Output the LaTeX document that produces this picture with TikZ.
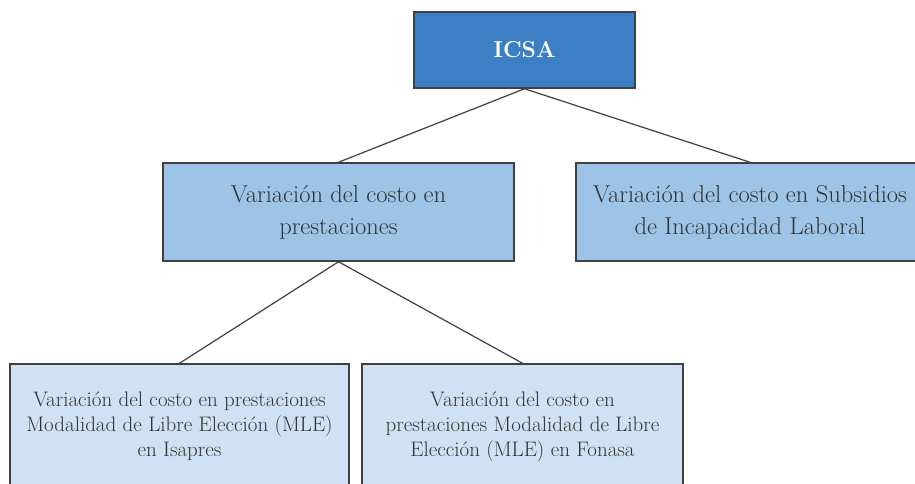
\documentclass[tikz,border=0pt]{standalone}
\usepackage{fontspec}
\usepackage{xcolor}
\usepackage{tikz}
\usetikzlibrary{positioning}

\definecolor{topblue}{HTML}{3D7FC4}
\definecolor{midblue}{HTML}{9DC3E6}
\definecolor{lowblue}{HTML}{CFE1F2}
\definecolor{edgegray}{HTML}{404040}
\definecolor{textgray}{HTML}{333333}

\begin{document}
\begin{tikzpicture}[
    x=1pt, y=-1pt,
    box/.style={rectangle, draw=edgegray, line width=1.5pt, align=center, text=textgray},
    topbox/.style={box, fill=topblue, text=white, font=\fontsize{23}{26}\selectfont\bfseries},
    midbox/.style={box, fill=midblue, minimum height=98pt, font=\fontsize{24.5}{32}\selectfont},
    lowbox/.style={box, fill=lowblue, minimum height=128pt, font=\fontsize{21}{25}\selectfont},
    link/.style={draw=edgegray, line width=1.2pt}
]
\useasboundingbox (0,0) rectangle (915,483);
\clip (0,0) rectangle (915,483);

\node[topbox, minimum width=221pt, minimum height=76pt] (icsa) at (524.5,50) {ICSA};

\node[midbox, minimum width=351pt] (prest) at (338.5,212) {Variación del costo en\\prestaciones};
\node[midbox, minimum width=348pt] (subs) at (750,212) {Variación del costo en Subsidios\\de Incapacidad Laboral};

\node[lowbox, minimum width=339pt] (mlei) at (179.5,428) {Variación del costo en prestaciones\\Modalidad de Libre Elección (MLE)\\en Isapres\\[-17pt]};
\node[lowbox, minimum width=321pt] (mlef) at (522.5,428) {Variación del costo en\\prestaciones Modalidad de Libre\\Elección (MLE) en Fonasa\\[-17pt]};

\draw[link] (icsa.south) -- (prest.north);
\draw[link] (icsa.south) -- (subs.north);
\draw[link] (prest.south) -- (mlei.north);
\draw[link] (prest.south) -- (mlef.north);

\end{tikzpicture}
\end{document}
